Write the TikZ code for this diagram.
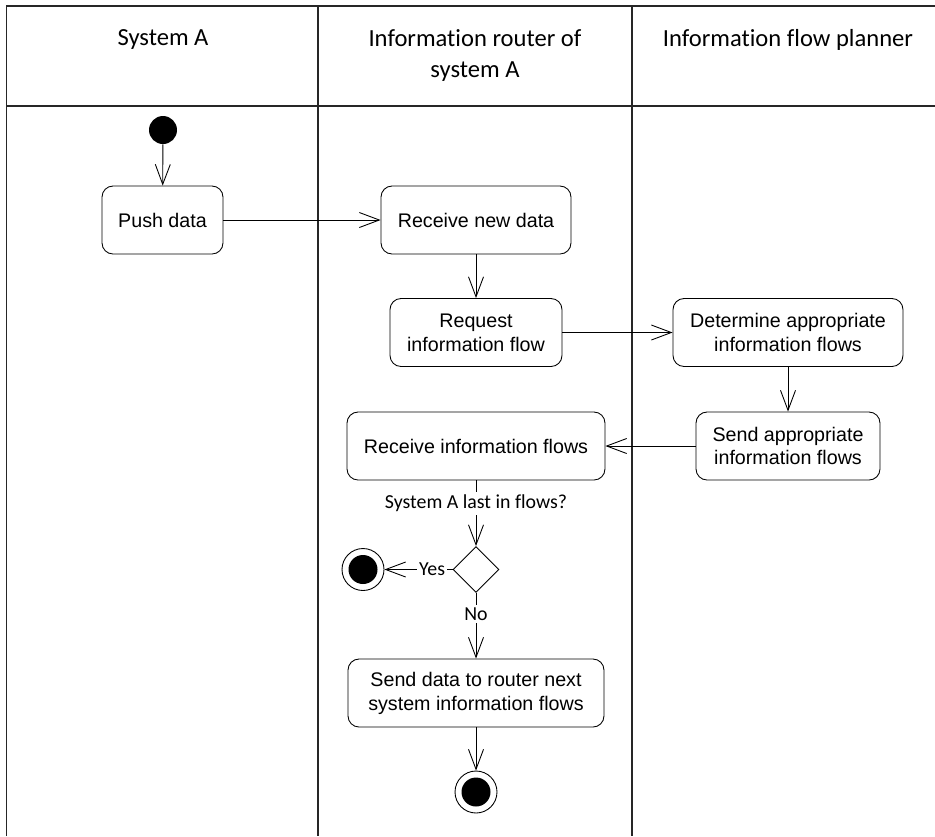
\documentclass[tikz,border=0pt]{standalone}
\usepackage{fontspec}
\setmainfont{Liberation Sans}
\newfontfamily\calibri[Ligatures=NoCommon]{Carlito}
\usetikzlibrary{arrows.meta,positioning,shapes.geometric}

\begin{document}
\begin{tikzpicture}[
    x=0.02cm, y=-0.02cm,
    font=\fontsize{11.2}{13.6}\selectfont,
    lane/.style={line width=0.75pt, black!85},
    hdr/.style={font=\calibri\fontsize{14}{17.8}\selectfont, align=center, anchor=north, inner sep=0pt},
    guard/.style={font=\calibri\fontsize{11.3}{13}\selectfont, fill=white, inner sep=1.5pt},
    act/.style={draw, rounded corners=0.22cm, line width=0.5pt, minimum height=1.36cm, align=center},
    startdot/.style={circle, fill=black, inner sep=0pt, minimum size=0.56cm},
    enddot/.style={circle, draw, line width=0.5pt, inner sep=0pt, minimum size=0.84cm,
      path picture={\fill[black] (path picture bounding box.center) circle (0.29cm);}},
    choice/.style={diamond, draw, line width=0.5pt, inner sep=0pt, minimum size=0.92cm},
    flow/.style={-{Straight Barb[length=0.4cm, width=0.3cm]}, line width=0.5pt}
  ]
  \useasboundingbox (0,0) rectangle (935,836);

  % Swimlanes
  \draw[lane] (6.5,836) -- (6.5,6) -- (935,6);
  \draw[lane] (6.5,106) -- (935,106);
  \foreach \x in {318,632}{
    \draw[lane] (\x,6) -- (\x,836);
  }

  \node[hdr] (h1) at (163,29) {System A};
  \node[hdr] (h2) at (475,29) {Information router of\\system A};
  \node[hdr] (h3) at (788,29) {Information flow planner};

  % System A
  \node[startdot] (a0) at (163,130) {};
  \node[act, minimum width=2.42cm] (a1) at (162.5,220) {Push data};

  % Information router of system A
  \node[act, minimum width=3.8cm] (b1) at (476,220) {Receive new data};
  \node[act, minimum width=3.44cm] (b2) at (476,332.5) {Request\\information flow};
  \node[act, minimum width=5.16cm] (b3) at (476,446) {Receive information flows};
  \node[choice] (b4) at (476,569.5) {};
  \node[enddot] (b5) at (363,569.5) {};
  \node[act, minimum width=5.12cm] (b6) at (476,693) {Send data to router next\\system information flows};
  \node[enddot] (b7) at (476,792) {};

  % Information flow planner
  \node[act, minimum width=4.6cm] (c1) at (788,332.5) {Determine appropriate\\information flows};
  \node[act, minimum width=3.68cm] (c2) at (788,446) {Send appropriate\\information flows};

  % Control flow
  \draw[flow] (a0) -- (a1);
  \draw[flow] (a1) -- (b1);
  \draw[flow] (b1) -- (b2);
  \draw[flow] (b2) -- (c1);
  \draw[flow] (c1) -- (c2);
  \draw[flow] (c2) -- (b3);
  \draw[flow] (b3) -- node[guard, pos=0.35] {System A last in flows?} (b4);
  \draw[flow] (b4) -- node[guard, pos=0.3, inner sep=1pt] {Yes} (b5);
  \draw[flow] (b4) -- node[guard, pos=0.32] {No} (b6);
  \draw[flow] (b6) -- (b7);

\end{tikzpicture}
\end{document}
